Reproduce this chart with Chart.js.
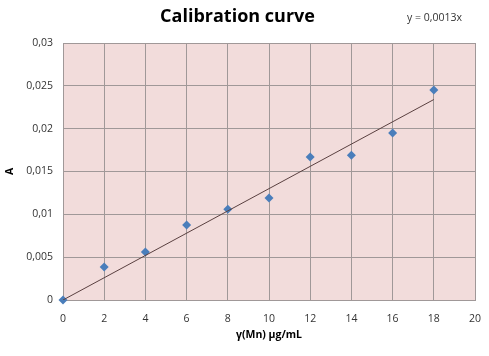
<!DOCTYPE html>
<html>
<head>
<meta charset="utf-8">
<script src="https://cdn.jsdelivr.net/npm/chart.js@4/dist/chart.umd.min.js"></script>
<style>
html,body{margin:0;padding:0;background:#fff;}
#wrap{width:489px;height:356px;}
</style>
</head>
<body>
<div id="wrap"><canvas id="c" width="489" height="356"></canvas></div>
<script>
const concentrations = [0, 2, 4, 6, 8, 10, 12, 14, 16, 18];
const absorbances = [0, 0.00385, 0.0056, 0.00875, 0.0106, 0.0119, 0.0167, 0.0169, 0.0195, 0.0245];
const slope = 0.0013;
const equationLabel = 'y = 0,0013x';
const titleText = 'Calibration curve';
const xTitle = 'γ(Mn) µg/mL';
const yTitle = 'A';

const points = concentrations.map((x, i) => ({x: x, y: absorbances[i]}));
const xEnd = concentrations[concentrations.length - 1];
const trend = [{x: 0, y: 0}, {x: xEnd, y: slope * xEnd}];

const fmt = v => String(parseFloat(v.toFixed(4))).replace('.', ',');

const bgPlugin = {
  id: 'plotBg',
  beforeDraw(chart) {
    const {ctx, chartArea: a} = chart;
    ctx.save();
    ctx.fillStyle = '#f2dcdb';
    ctx.fillRect(a.left, a.top, a.right - a.left, a.bottom - a.top);
    ctx.restore();
  },
  afterDraw(chart) {
    const ctx = chart.ctx;
    ctx.save();
    ctx.font = '10.5px "Open Sans", sans-serif';
    ctx.fillStyle = '#333';
    ctx.textAlign = 'left';
    ctx.textBaseline = 'middle';
    ctx.fillText(equationLabel, 407, 18);
    ctx.restore();
  }
};

new Chart(document.getElementById('c'), {
  type: 'scatter',
  data: {
    datasets: [
      {
        type: 'line',
        data: trend,
        borderColor: '#5a4040',
        borderWidth: 1,
        pointRadius: 0,
        fill: false
      },
      {
        data: points,
        clip: false,
        pointStyle: 'rectRot',
        pointRadius: 4.5,
        backgroundColor: '#4a7ebb',
        borderColor: '#4a7ebb',
        borderWidth: 0
      }
    ]
  },
  options: {
    responsive: false,
    animation: false,
    layout: {padding: {left: 0, right: 14, top: 0, bottom: 0}},
    plugins: {
      legend: {display: false},
      tooltip: {enabled: false},
      title: {
        display: true,
        text: titleText,
        color: '#000',
        font: {family: '"Open Sans", sans-serif', size: 18, weight: 'bold', lineHeight: 1.2},
        padding: {top: 6, bottom: 15.4}
      }
    },
    scales: {
      x: {
        type: 'linear',
        min: 0, max: 20,
        ticks: {stepSize: 2, color: '#333', padding: 13, font: {family: '"Open Sans", sans-serif', size: 10.5}},
        grid: {color: '#a09898', lineWidth: 1, drawTicks: false},
        border: {color: '#a09898'},
        title: {display: true, text: xTitle, color: '#000', font: {family: '"Open Sans", sans-serif', size: 10.5, weight: 'bold'}, padding: {top: 0, bottom: 15}},
        afterFit(s) { s.height = 56; s.paddingLeft = 0; s.paddingRight = 0; }
      },
      y: {
        type: 'linear',
        min: 0, max: 0.03,
        ticks: {stepSize: 0.005, color: '#333', padding: 10, font: {family: '"Open Sans", sans-serif', size: 10.5}, callback: v => fmt(v)},
        grid: {color: '#a09898', lineWidth: 1, drawTicks: false},
        border: {color: '#a09898'},
        title: {display: true, text: yTitle, color: '#000', font: {family: '"Open Sans", sans-serif', size: 10.5, weight: 'bold'}, padding: {top: 4, bottom: 0}},
        afterFit(s) { s.width = 63; s.paddingTop = 0; s.paddingBottom = 0; }
      }
    }
  },
  plugins: [bgPlugin]
});
</script>
</body>
</html>
